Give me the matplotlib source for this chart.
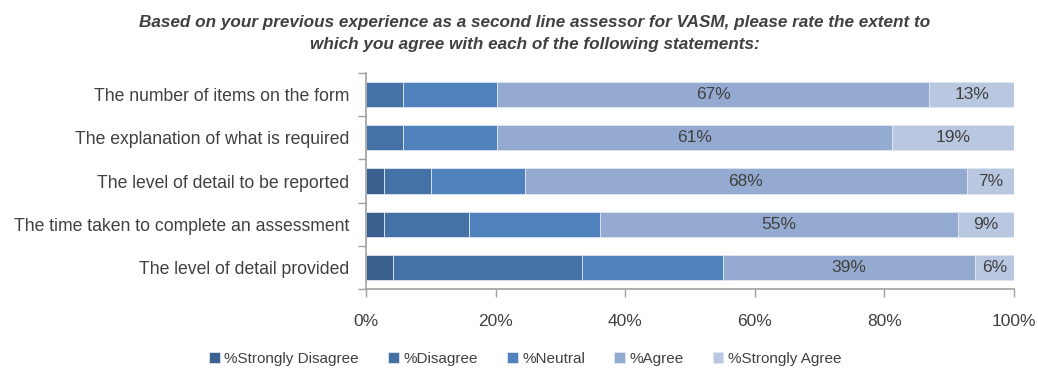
import matplotlib
matplotlib.use("Agg")
import matplotlib.pyplot as plt
import numpy as np

# Survey statements (top to bottom) and response shares in percent
statements = [
    "The number of items on the form",
    "The explanation of what is required",
    "The level of detail to be reported",
    "The time taken to complete an assessment",
    "The level of detail provided",
]
strongly_disagree = [0.0, 0.0, 2.8, 2.8, 4.2]
disagree = [5.7, 5.7, 7.2, 13.1, 29.1]
neutral = [14.5, 14.5, 14.5, 20.2, 21.8]
agree = [66.7, 61.0, 68.2, 55.2, 38.9]
strongly_agree = [13.1, 18.8, 7.3, 8.7, 6.0]

series_names = ["%Strongly Disagree", "%Disagree", "%Neutral", "%Agree", "%Strongly Agree"]
series_colors = ["#3b5f8f", "#4472a6", "#4f81bd", "#94aad0", "#b9c7e1"]
labelled_series = {3, 4}

x_ticks = [0, 20, 40, 60, 80, 100]

plt.rcParams["font.family"] = ["Liberation Sans", "DejaVu Sans"]

fig = plt.figure(figsize=(10.38, 3.70), dpi=100)
ax = fig.add_axes([0.3526, 0.2189, 0.6243, 0.5838])

values = [strongly_disagree, disagree, neutral, agree, strongly_agree]
y = np.arange(len(statements))
left = np.zeros(len(statements))
text_color = "#404040"
for i, (vals, name, col) in enumerate(zip(values, series_names, series_colors)):
    vals = np.array(vals)
    ax.barh(y, vals, left=left, height=0.58, color=col, label=name,
            edgecolor="#dfe6f1", linewidth=0.6)
    if i in labelled_series:
        for yy, l, v in zip(y, left, vals):
            ax.text(l + v / 2, yy, f"{v:.0f}%", ha="center", va="center",
                    fontsize=12.5, color=text_color)
    left = left + vals

ax.set_ylim(len(statements) - 0.5, -0.5)
ax.set_xlim(0, 100)
ax.set_yticks(y)
ax.set_yticklabels(statements, fontsize=12.7, color=text_color)
ax.set_yticks(np.arange(len(statements) + 1) - 0.5, minor=True)
ax.tick_params(axis="y", which="major", length=0, pad=12)
ax.tick_params(axis="y", which="minor", length=6, color="#a0a0a0", width=1)
ax.set_xticks(x_ticks)
ax.set_xticklabels([f"{t}%" for t in x_ticks], fontsize=12.5, color=text_color)
ax.tick_params(axis="x", length=6, color="#a0a0a0", width=1, pad=12)

for side in ["top", "right"]:
    ax.spines[side].set_visible(False)
for side in ["left", "bottom"]:
    ax.spines[side].set_color("#a0a0a0")
    ax.spines[side].set_linewidth(1.2)

fig.text(0.515, 0.91,
         "Based on your previous experience as a second line assessor for VASM, please rate the extent to\n"
         "which you agree with each of the following statements:",
         ha="center", va="center", fontsize=12.3, fontweight="bold", fontstyle="italic",
         color=text_color, linespacing=1.55)

fig.legend(loc="center", bbox_to_anchor=(0.506, 0.03), ncol=5, frameon=False,
           fontsize=11, handlelength=0.7, handleheight=0.7, handletextpad=0.3,
           columnspacing=1.9, labelcolor=text_color)

fig.savefig("out.png", dpi=100)
